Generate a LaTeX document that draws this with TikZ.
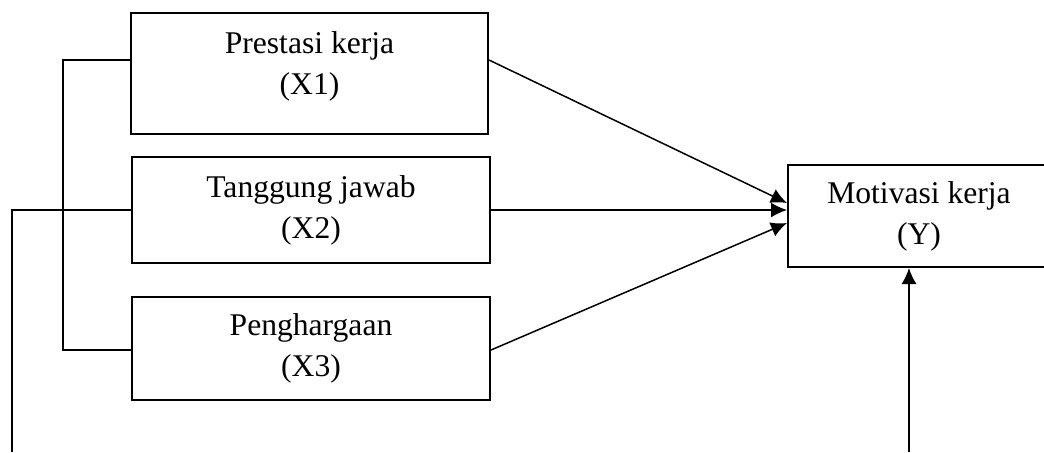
\documentclass[tikz,border=0pt]{standalone}
\usepackage{fontspec}
\setmainfont{Liberation Serif}
\usetikzlibrary{calc,arrows.meta}

\begin{document}
\begin{tikzpicture}[x=0.5pt, y=-0.5pt, line width=0.75pt,
    varbox/.style={draw, line width=1pt, align=center, inner sep=0pt,
        font=\fontsize{15.8}{20.5}\selectfont},
    >={Latex[length=8pt, width=7.5pt]}]
    \useasboundingbox (0,0) rectangle (1044,452);
    \clip (0,0) rectangle (1044,452);

    \node[varbox, minimum width=178.5pt, minimum height=60.5pt, text depth=10.5pt](x1) at (309.5,73.5){Prestasi kerja\\(X1)};
    \node[varbox, minimum width=179pt, minimum height=53pt](x2) at (311,210){Tanggung jawab\\(X2)};
    \node[varbox, minimum width=179pt, minimum height=51.5pt](x3) at (311,348.5){Penghargaan\\(X3)};
    \node[varbox, minimum width=131pt, minimum height=51pt](y) at (919,216){Motivasi kerja\\(Y)};

    \coordinate (kt) at (63,60);
    \coordinate (kb) at (63,350);
    \coordinate (kl) at (12,452);
    \coordinate (kr) at (909,452);

    \draw (x1.west |- kt) -- (kt) -- (kb) -- (kb -| x3.west);
    \draw (x2.west) -| (kl);
    \draw[->] (kr) -- (kr |- y.south);

    \draw[->] (x1.east |- kt) -- ($(y.west)-(0,13)$);
    \draw[->] (x2.east) -- (x2.east -| y.west);
    \draw[->] (x3.east |- kb) -- ($(y.west)+(0,7)$);

\end{tikzpicture}
\end{document}
